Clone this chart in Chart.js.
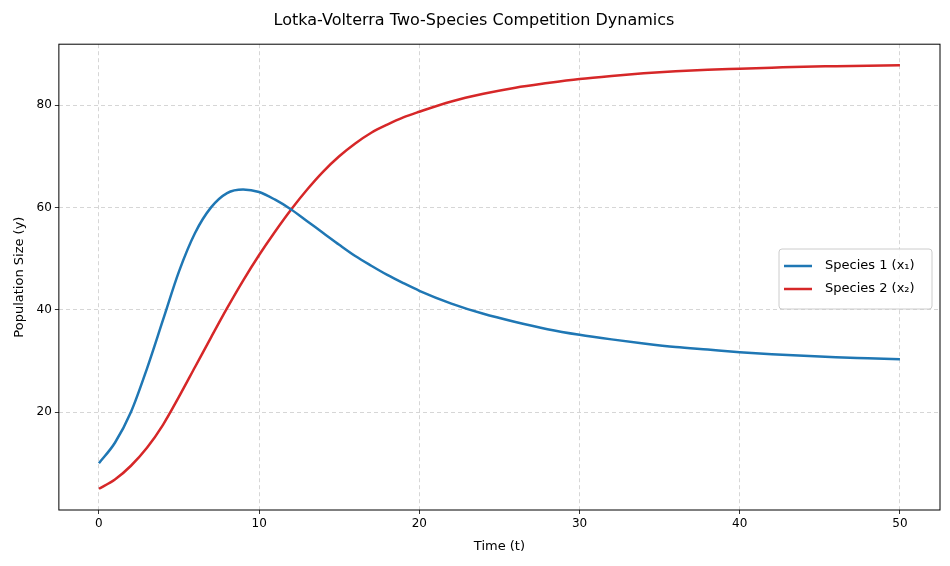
<!DOCTYPE html>
<html>
<head>
<meta charset="utf-8">
<script src="https://cdn.jsdelivr.net/npm/chart.js@4/dist/chart.umd.min.js"></script>
<style>
  body { margin: 0; background: #fff; }
  #wrap { width: 950px; height: 566px; }
</style>
</head>
<body>
<div id="wrap"><canvas id="lv"></canvas></div>
<script>
// Time points and population sizes
const times = [0,1,2,3,4,5,6,7,8,9,10,11,12,13,14,15,16,17,18,19,20,22,24,26,28,30,32,34,36,38,40,42,44,46,48,50];
const species1 = [10,14,20,28.5,38,47.5,55,60,62.8,63.5,63,61.5,59.6,57.3,55,52.7,50.5,48.6,46.8,45.2,43.7,41.2,39.2,37.6,36.2,35.1,34.2,33.4,32.7,32.2,31.7,31.3,31.0,30.7,30.5,30.3];
const species2 = [5,6.8,9.5,13,17.5,23,28.8,34.6,40.3,45.7,50.7,55.3,59.6,63.5,67,70,72.5,74.6,76.2,77.6,78.7,80.7,82.2,83.4,84.3,85.1,85.7,86.2,86.6,86.9,87.1,87.3,87.5,87.6,87.7,87.8];
const xTicks = [0,10,20,30,40,50];
const yTicks = [20,40,60,80];
const seriesNames = ['Species 1 (x\u2081)', 'Species 2 (x\u2082)'];
const seriesColors = ['#1f77b4', '#d62728'];

const toPoints = ys => times.map((t, i) => ({x: t, y: ys[i]}));

// Box around the plot plus a matplotlib-like legend inside it
const framePlugin = {
    id: 'frame',
    afterDraw(chart) {
        const {ctx, chartArea: a} = chart;
        ctx.save();
        ctx.strokeStyle = '#000';
        ctx.lineWidth = 1;
        ctx.strokeRect(a.left, a.top, a.right - a.left, a.bottom - a.top);

        const bx = 779, by = 249, bw = 153, bh = 60;
        ctx.fillStyle = 'rgba(255,255,255,0.85)';
        ctx.strokeStyle = '#cccccc';
        ctx.beginPath();
        ctx.roundRect(bx, by, bw, bh, 3);
        ctx.fill();
        ctx.stroke();
        ctx.font = '13px "DejaVu Sans"';
        ctx.textBaseline = 'middle';
        seriesNames.forEach((name, i) => {
            const y = by + 17 + i * 23;
            ctx.strokeStyle = seriesColors[i];
            ctx.lineWidth = 2.5;
            ctx.beginPath();
            ctx.moveTo(bx + 5, y);
            ctx.lineTo(bx + 33, y);
            ctx.stroke();
            ctx.fillStyle = '#000';
            ctx.fillText(name, bx + 46, y);
        });
        ctx.restore();
    }
};

const grid = {color: '#cccccc', lineWidth: 0.8, tickColor: '#000', tickLength: 4};
const tickFont = {family: 'DejaVu Sans', size: 12};

new Chart(document.getElementById('lv').getContext('2d'), {
    type: 'line',
    data: {
        datasets: [species1, species2].map((ys, i) => ({
            label: seriesNames[i],
            data: toPoints(ys),
            borderColor: seriesColors[i],
            borderWidth: 2.5,
            pointRadius: 0,
            cubicInterpolationMode: 'monotone',
            fill: false
        }))
    },
    options: {
        responsive: true,
        maintainAspectRatio: false,
        animation: false,
        layout: {padding: {top: 5, right: 10, left: 8, bottom: 8}},
        plugins: {
            legend: {display: false},
            tooltip: {enabled: false},
            title: {
                display: true,
                text: 'Lotka-Volterra Two-Species Competition Dynamics',
                color: '#000',
                font: {family: 'DejaVu Sans', size: 16, weight: 'normal'},
                padding: {top: 6, bottom: 14}
            }
        },
        scales: {
            x: {
                type: 'linear',
                min: -2.5,
                max: 52.5,
                afterBuildTicks: s => { s.ticks = xTicks.map(v => ({value: v})); },
                grid: {...grid},
                border: {display: false, dash: [4, 3]},
                ticks: {color: '#000', font: tickFont, maxRotation: 0},
                title: {display: true, text: 'Time (t)', color: '#000', font: {family: 'DejaVu Sans', size: 13}, padding: {top: 4}}
            },
            y: {
                min: 0.85,
                max: 91.9,
                afterBuildTicks: s => { s.ticks = yTicks.map(v => ({value: v})); },
                grid: {...grid},
                border: {display: false, dash: [4, 3]},
                ticks: {color: '#000', font: tickFont},
                title: {display: true, text: 'Population Size (y)', color: '#000', font: {family: 'DejaVu Sans', size: 13}, padding: {bottom: 6}}
            }
        }
    },
    plugins: [framePlugin]
});
</script>
</body>
</html>
